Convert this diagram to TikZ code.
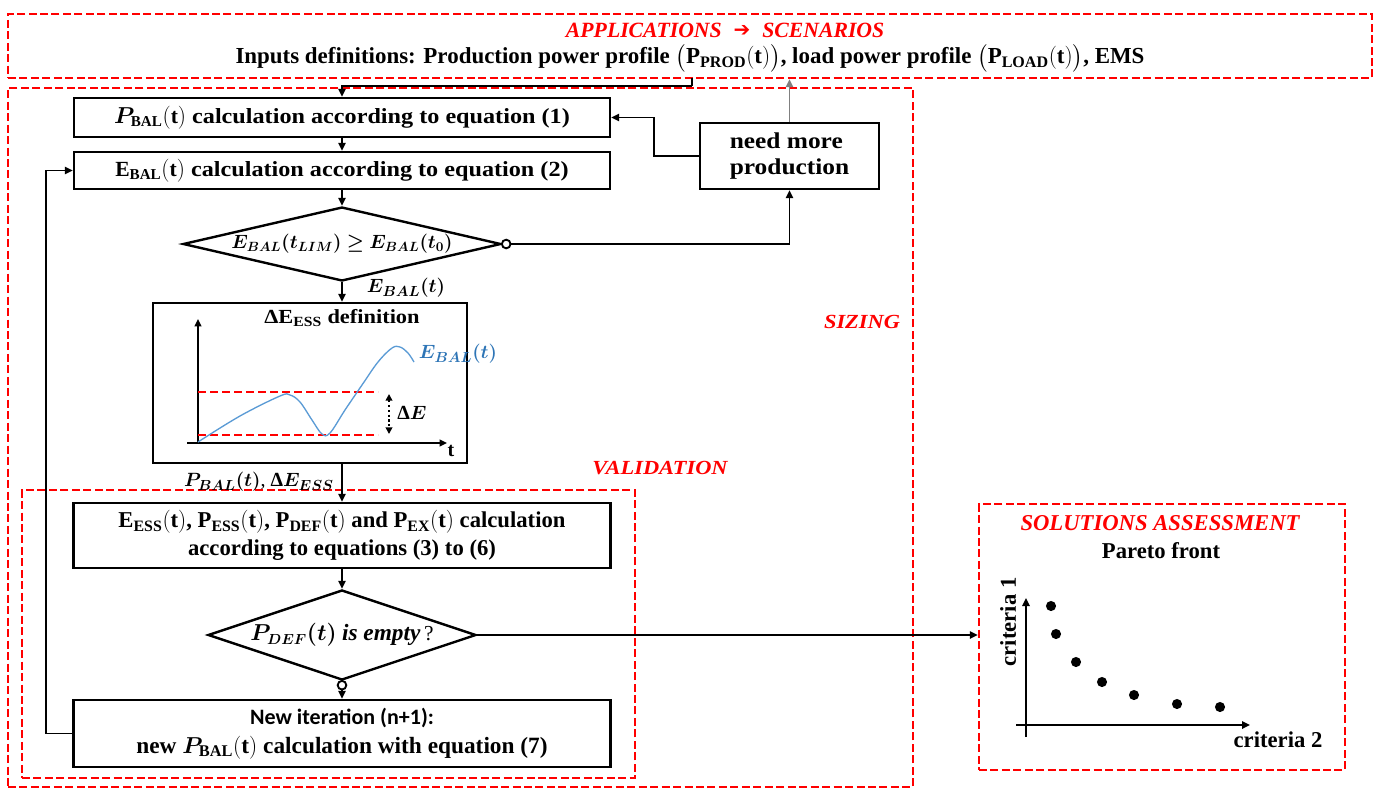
\documentclass[tikz,border=0pt]{standalone}
\usepackage{amsmath}
\usepackage{bm}
\usepackage{fontspec}
\setmainfont{Liberation Serif}
\newfontfamily\camb[FakeStretch=1.12]{Liberation Serif}
\newfontfamily\carl{Carlito}
\newfontfamily\djv{DejaVu Sans}
\usetikzlibrary{shapes.geometric,arrows.meta,calc}
\definecolor{curveblue}{RGB}{91,155,213}
\definecolor{labelblue}{RGB}{46,117,182}
\tikzset{
  redbox/.style={draw=red, line width=1.8pt, dash pattern=on 6pt off 2.6pt, inner sep=0pt},
  flowbox/.style={draw, line width=1.8pt, inner sep=2pt, align=center},
  dia/.style={diamond, draw, line width=1.8pt, inner sep=0pt},
  arr/.style={line width=1.4pt, -{Triangle[length=6pt,width=5.5pt]}},
  ln/.style={line width=1.4pt},
  openc/.style={circle, draw, line width=1.4pt, fill=white, inner sep=0pt, minimum size=6.5pt},
  redlab/.style={text=red, font=\fontsize{15}{18}\selectfont\camb\bfseries\itshape, inner sep=0pt},
  apptxt/.style={text=red, font=\fontsize{16.3}{20}\selectfont\bfseries\itshape, inner sep=0pt},
  cambtxt/.style={font=\fontsize{16.2}{20}\selectfont\camb\bfseries},
  timestxt/.style={font=\fontsize{17}{21}\selectfont\bfseries},
}
\begin{document}
\begin{tikzpicture}[x=0.75pt,y=-0.75pt]
\useasboundingbox (0,0) rectangle (1385,790);
% frames
\node[redbox, minimum width=1023pt, minimum height=48pt] (app) at (690,46) {};
\node[redbox, minimum width=678.75pt, minimum height=524.25pt] (sizing) at (460.5,437.5) {};
\node[redbox, minimum width=459.75pt, minimum height=216pt] (valid) at (328.5,634) {};
\node[redbox, minimum width=274.5pt, minimum height=199.5pt] (sol) at (1162,637) {};
% frame texts
\node[text=red, font=\djv\bfseries\fontsize{15}{18}\selectfont, inner sep=0pt] (apparrow) at (742,31) {➔};
\node[apptxt, anchor=east] (apptitle1) at (722,30) {APPLICATIONS};
\node[apptxt, anchor=west] (apptitle2) at (762,30) {SCENARIOS};
\node[font=\fontsize{17.2}{21}\selectfont\bfseries, inner sep=0pt] (inputs) at (690,58) {Inputs definitions: Production power profile $\bigl(\mathbf{P_{PROD}(t)}\bigr)$, load power profile $\bigl(\mathbf{P_{LOAD}(t)}\bigr)$, EMS};
\node[redlab] (sizlab) at (862,322) {SIZING};
\node[redlab] (vallab) at (660,468) {VALIDATION};
\node[text=red, font=\fontsize{17}{20}\selectfont\bfseries\itshape, inner sep=0pt] (soltitle) at (1160,523) {SOLUTIONS ASSESSMENT};
\node[timestxt, inner sep=0pt] (pareto) at (1161,551) {Pareto front};
% flow boxes
\node[flowbox, cambtxt, minimum width=402pt, minimum height=29.25pt] (pbal) at (342,117.5) {$\bm{P}_{\mathbf{BAL}}(\mathbf{t})$ calculation according to equation (1)};
\node[flowbox, cambtxt, minimum width=402pt, minimum height=27.75pt] (ebal) at (342,170.5) {$\mathbf{E_{BAL}(t)}$ calculation according to equation (2)};
\node[flowbox, font=\fontsize{17}{20}\selectfont\camb\bfseries, minimum width=134.25pt, minimum height=49.5pt, align=left] (need) at (789.5,156) {need more\\production};
\node[dia, aspect=4.3, minimum width=238.5pt, minimum height=55.5pt, font=\fontsize{14}{16}\selectfont] (d1) at (342,244) {$\bm{E_{BAL}(t_{LIM}) \geq E_{BAL}(t_0)}$};
\node[draw, line width=1.8pt, minimum width=235.5pt, minimum height=120pt] (dbox) at (310,383) {};
\node[cambtxt, font=\fontsize{15}{19}\selectfont\camb\bfseries, inner sep=0pt] (dtitle) at (342,318) {ΔE\textsubscript{ESS} definition};
\node[flowbox, timestxt, minimum width=402.75pt, minimum height=48.75pt] (ess) at (342,535.5) {$\mathbf{E_{ESS}(t)}$, $\mathbf{P_{ESS}(t)}$, $\mathbf{P_{DEF}(t)}$ and $\mathbf{P_{EX}(t)}$ calculation\\according to equations (3) to (6)};
\node[dia, aspect=3, minimum width=201pt, minimum height=67.5pt, font=\fontsize{16}{18}\selectfont] (d2) at (342,635) {$\bm{P_{DEF}(t)}$ {\fontsize{17.5}{20}\selectfont\textbf{\textit{is empty}}}\,?};
\node[flowbox, minimum width=402.75pt, minimum height=50.25pt, font=\fontsize{17.5}{22}\selectfont\bfseries] (newit) at (342,733.5) {{\carl\fontsize{16.5}{22}\selectfont New iteration (n+1):}\\new $\bm{P}_{\mathbf{BAL}}(\mathbf{t})$ calculation with equation (7)};
% labels
\node[font=\fontsize{15}{18}\selectfont, inner sep=0pt] (lab1) at (406,288) {$\bm{E_{BAL}(t)}$};
\node[font=\fontsize{15}{18}\selectfont, inner sep=0pt] (lab2) at (259,482) {$\bm{P_{BAL}(t)}$, \textbf{Δ}$\bm{E_{ESS}}$};
\node[font=\fontsize{15.5}{18}\selectfont, text=labelblue, inner sep=0pt] (lab3) at (458,354) {$\bm{E_{BAL}(t)}$};
\node[font=\fontsize{15}{18}\selectfont, inner sep=0pt] (lab4) at (412,413) {\textbf{Δ}$\bm{E}$};
\node[font=\fontsize{15}{18}\selectfont\bfseries, inner sep=0pt] (tlab) at (451,451) {t};
% connectors
\coordinate (appout) at (692,78);
\coordinate (appbend) at (692,86);
\draw[ln] (appout) -- (appbend);
\draw[arr] (appbend) -| (pbal.north);
\draw[arr] (pbal.south) -- (ebal.north);
\draw[arr] (ebal.south) -- (d1.north);
\node[openc] (c1) at ([xshift=3pt]d1.east) {};
\draw[arr] (c1.east) -| (need.south);
\draw[arr] (need.west) -- ++(-45,0) |- (pbal.east);
\draw[line width=1.4pt, gray, -{Triangle[length=6pt,width=5.5pt]}] (need.north) -- (need.north |- app.south);
\draw[arr] (d1.south) -- (dbox.north -| d1.south);
\draw[arr] (dbox.south -| d1.south) -- (ess.north);
\draw[arr] (ess.south) -- (d2.north);
\node[openc] (c2) at ([yshift=-3pt]d2.south) {};
\draw[arr] (c2.south) -- (newit.north);
\draw[arr] (newit.west) -- ++(-26,0) |- (ebal.west);
\draw[arr] (d2.east) -- (d2.east -| sol.west);
% chart inside dbox
\draw[line width=1.4pt, -{Triangle[length=5.5pt,width=5pt]}] (198,443) -- (198,319);
\draw[line width=1.4pt, -{Triangle[length=5.5pt,width=5pt]}] (187,443) -- (447,443);
\draw[red, line width=2pt, dash pattern=on 6pt off 3pt] (198,392) -- (378,392);
\draw[red, line width=2pt, dash pattern=on 6pt off 3pt] (198,435) -- (378,435);
\draw[curveblue, line width=1pt] plot[smooth, tension=0.6] coordinates {(198,442) (240,416) (280,396) (290,395) (300,402) (312,420) (322,434) (330,433) (345,410) (362,385) (378,362) (392,348) (400,347) (408,353) (414,362)};
\draw[line width=1.6pt, dotted, {Triangle[length=5pt,width=5pt]}-{Triangle[length=5pt,width=5pt]}] (389,394) -- (389,434);
% Pareto chart
\draw[line width=1.6pt, -{Triangle[length=6pt,width=5.5pt]}] (1026,737) -- (1026,598);
\draw[line width=1.6pt, -{Triangle[length=6pt,width=5.5pt]}] (1016,725) -- (1250,725);
\node[timestxt, rotate=90, inner sep=0pt] (crit1) at (1008,622) {criteria 1};
\node[timestxt, inner sep=0pt] (crit2) at (1278,740) {criteria 2};
\foreach \p in {(1051,606),(1056,634),(1076,662),(1102,682),(1134,695),(1177,704),(1220,707)}
  \fill \p circle (3.8pt);
\end{tikzpicture}
\end{document}
